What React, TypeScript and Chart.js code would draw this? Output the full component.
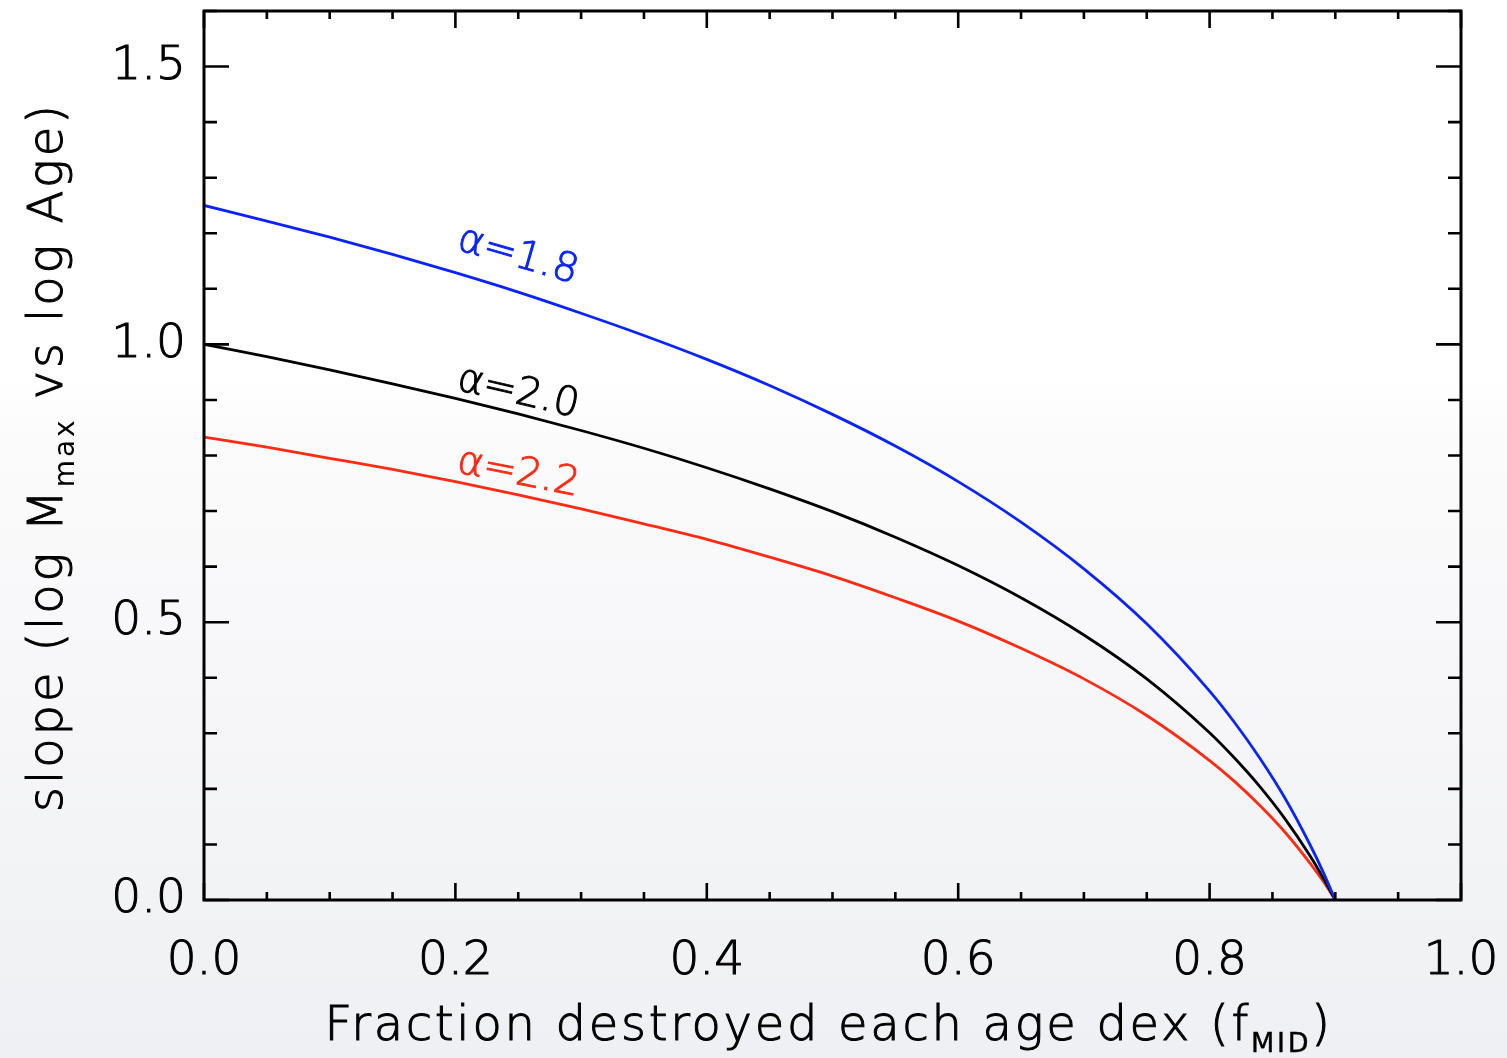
import React, { useEffect, useRef } from "react";
import { Chart, registerables } from "chart.js";

Chart.register(...registerables);

// Fraction of clusters destroyed per dex in age
const fMid = [
  0, 0.05, 0.1, 0.15, 0.2, 0.25, 0.3, 0.35, 0.4, 0.45, 0.5, 0.55, 0.6, 0.65,
  0.7, 0.75, 0.8, 0.82, 0.84, 0.86, 0.88, 0.89, 0.9,
];

// slope of log Mmax vs log Age for each mass-function index
const slopeAlpha18 = [
  1.25, 1.222, 1.193, 1.162, 1.129, 1.094, 1.056, 1.016, 0.973, 0.926, 0.874,
  0.817, 0.753, 0.68, 0.596, 0.497, 0.376, 0.319, 0.255, 0.183, 0.099, 0.052, 0,
];
const slopeAlpha20 = [
  1.0, 0.978, 0.954, 0.929, 0.903, 0.875, 0.845, 0.813, 0.778, 0.74, 0.699,
  0.653, 0.602, 0.544, 0.477, 0.398, 0.301, 0.255, 0.204, 0.146, 0.079, 0.041, 0,
];
const slopeAlpha22 = [
  0.833, 0.815, 0.795, 0.775, 0.753, 0.729, 0.704, 0.677, 0.649, 0.617, 0.583,
  0.544, 0.502, 0.453, 0.398, 0.332, 0.251, 0.213, 0.17, 0.122, 0.066, 0.035, 0,
];

const seriesNames = ["α=1.8", "α=2.0", "α=2.2"];

const xMajorTicks = [0, 0.2, 0.4, 0.6, 0.8, 1.0];
const xMinorTicks = [
  0.05, 0.1, 0.15, 0.25, 0.3, 0.35, 0.45, 0.5, 0.55, 0.65, 0.7, 0.75, 0.85,
  0.9, 0.95,
];
const yMajorTicks = [0, 0.5, 1.0, 1.5];
const yMinorTicks = [0.1, 0.2, 0.3, 0.4, 0.6, 0.7, 0.8, 0.9, 1.1, 1.2, 1.3, 1.4, 1.6];

// where each curve label sits (data coordinates) and its tilt in degrees
const labelAnchorX = [0.2, 0.2, 0.2];
const labelAnchorY = [1.171, 0.919, 0.77];
const labelTilt = [16, 13, 11];

const BLUE = "#0a24ff";
const BLACK = "#000000";
const RED = "#ff2b14";
const seriesColors = [BLUE, BLACK, RED];

const FONT = "'DejaVu Sans', sans-serif";
const WEIGHT = "300";
const TEXT_STROKE = 1;

type Seg = { text: string; size: number; dy: number; weight: string; stroke: number };

function drawRich(
  ctx: CanvasRenderingContext2D,
  segs: Seg[],
  cx: number,
  baseline: number,
  spacing: number
) {
  (ctx as any).letterSpacing = spacing + "px";
  let total = 0;
  const widths = segs.map((s) => {
    ctx.font = `${s.weight} ${s.size}px ${FONT}`;
    const w = ctx.measureText(s.text).width;
    total += w;
    return w;
  });
  let x = cx - total / 2;
  ctx.textAlign = "left";
  ctx.textBaseline = "alphabetic";
  segs.forEach((s, i) => {
    ctx.font = `${s.weight} ${s.size}px ${FONT}`;
    ctx.fillText(s.text, x, baseline + s.dy);
    if (s.stroke > 0) {
      ctx.lineWidth = s.stroke;
      ctx.strokeText(s.text, x, baseline + s.dy);
    }
    x += widths[i];
  });
  (ctx as any).letterSpacing = "0px";
}

const backgroundPlugin = {
  id: "pageBackground",
  beforeDraw(chart: any) {
    const { ctx, width, height } = chart;
    ctx.save();
    const g = ctx.createLinearGradient(0, 0, 0, height);
    g.addColorStop(0, "#ffffff");
    g.addColorStop(0.36, "#ffffff");
    g.addColorStop(0.42, "#fbfbfc");
    g.addColorStop(1, "#eff0f3");
    ctx.fillStyle = g;
    ctx.fillRect(0, 0, width, height);
    ctx.restore();
  },
};

const framePlugin = {
  id: "frameAndText",
  afterDraw(chart: any) {
    const { ctx, chartArea } = chart;
    const xs = chart.scales.x;
    const ys = chart.scales.y;
    const { left, right, top, bottom } = chartArea;
    ctx.save();
    ctx.strokeStyle = "#000";
    ctx.lineWidth = 3;
    ctx.lineCap = "butt";
    ctx.strokeRect(left, top, right - left, bottom - top);

    ctx.lineWidth = 2.6;
    ctx.beginPath();
    const xTick = (v: number, len: number) => {
      const px = xs.getPixelForValue(v);
      ctx.moveTo(px, bottom);
      ctx.lineTo(px, bottom - len);
      ctx.moveTo(px, top);
      ctx.lineTo(px, top + len);
    };
    const yTick = (v: number, len: number) => {
      const py = ys.getPixelForValue(v);
      ctx.moveTo(left, py);
      ctx.lineTo(left + len, py);
      ctx.moveTo(right, py);
      ctx.lineTo(right - len, py);
    };
    xMajorTicks.forEach((v) => xTick(v, 17));
    xMinorTicks.forEach((v) => xTick(v, 8));
    yMajorTicks.forEach((v) => yTick(v, 25));
    yMinorTicks.forEach((v) => yTick(v, 13));
    ctx.stroke();

    // curve labels
    ctx.font = `${WEIGHT} 40px ${FONT}`;
    ctx.textAlign = "left";
    ctx.textBaseline = "alphabetic";
    ctx.lineWidth = TEXT_STROKE;
    seriesNames.forEach((name, i) => {
      const px = xs.getPixelForValue(labelAnchorX[i]);
      const py = ys.getPixelForValue(labelAnchorY[i]);
      ctx.save();
      ctx.translate(px, py);
      ctx.rotate((labelTilt[i] * Math.PI) / 180);
      ctx.fillStyle = seriesColors[i];
      ctx.strokeStyle = seriesColors[i];
      ctx.fillText(name, 0, 0);
      ctx.strokeText(name, 0, 0);
      ctx.restore();
    });

    // axis titles
    ctx.fillStyle = "#000";
    ctx.strokeStyle = "#000";
    drawRich(
      ctx,
      [
        { text: "Fraction destroyed each age dex (f", size: 48, dy: 0, weight: WEIGHT, stroke: TEXT_STROKE },
        { text: "MID", size: 27, dy: 12, weight: "400", stroke: 0.4 },
        { text: ")", size: 48, dy: 0, weight: WEIGHT, stroke: TEXT_STROKE },
      ],
      (left + right) / 2 - 4,
      1040,
      2.7
    );

    ctx.save();
    ctx.translate(62, 457);
    ctx.rotate(-Math.PI / 2);
    drawRich(
      ctx,
      [
        { text: "slope (log M", size: 48, dy: 0, weight: WEIGHT, stroke: TEXT_STROKE },
        { text: "max", size: 28, dy: 12, weight: "400", stroke: 0 },
        { text: " vs log Age)", size: 48, dy: 0, weight: WEIGHT, stroke: TEXT_STROKE },
      ],
      0,
      0,
      2.9
    );
    ctx.restore();
    ctx.restore();
  },
};

export default function App() {
  const canvasRef = useRef<HTMLCanvasElement | null>(null);

  useEffect(() => {
    const canvas = canvasRef.current;
    if (!canvas) return;
    const datasets = [slopeAlpha18, slopeAlpha20, slopeAlpha22].map((vals, i) => ({
      label: seriesNames[i],
      data: fMid.map((f, j) => ({ x: f, y: vals[j] })),
      borderColor: seriesColors[i],
      borderWidth: 2.8,
      pointRadius: 0,
      fill: false,
      cubicInterpolationMode: "monotone" as const,
    }));

    const tickStyle = {
      color: "#000",
      font: { family: FONT, size: 47, weight: WEIGHT },
      textStrokeColor: "#000",
      textStrokeWidth: TEXT_STROKE,
      autoSkip: false,
      callback: (v: any) => Number(v).toFixed(1),
    };

    const chart = new Chart(canvas, {
      type: "line",
      data: { datasets },
      options: {
        animation: false,
        responsive: false,
        devicePixelRatio: 1,
        layout: { padding: { top: 11, right: 46, left: 0, bottom: 0 } },
        plugins: {
          legend: { display: false },
          tooltip: { enabled: false },
        },
        scales: {
          x: {
            type: "linear",
            min: 0,
            max: 1,
            afterBuildTicks: (scale: any) => {
              scale.ticks = xMajorTicks.map((v) => ({ value: v }));
            },
            afterFit: (scale: any) => {
              scale.height = 158;
              scale.paddingLeft = 0;
              scale.paddingRight = 0;
            },
            grid: { display: false, drawTicks: false },
            border: { display: false },
            ticks: { ...tickStyle, padding: 34, maxRotation: 0 },
          },
          y: {
            type: "linear",
            min: 0,
            max: 1.6,
            afterBuildTicks: (scale: any) => {
              scale.ticks = yMajorTicks.map((v) => ({ value: v }));
            },
            afterFit: (scale: any) => {
              scale.width = 204;
              scale.paddingTop = 0;
              scale.paddingBottom = 0;
            },
            grid: { display: false, drawTicks: false },
            border: { display: false },
            ticks: { ...tickStyle, padding: 18 },
          },
        },
      },
      plugins: [backgroundPlugin, framePlugin],
    });
    return () => chart.destroy();
  }, []);

  return (
    <div style={{ position: "fixed", left: 0, top: 0, width: 1507, height: 1058 }}>
      <canvas ref={canvasRef} width={1507} height={1058} />
    </div>
  );
}
